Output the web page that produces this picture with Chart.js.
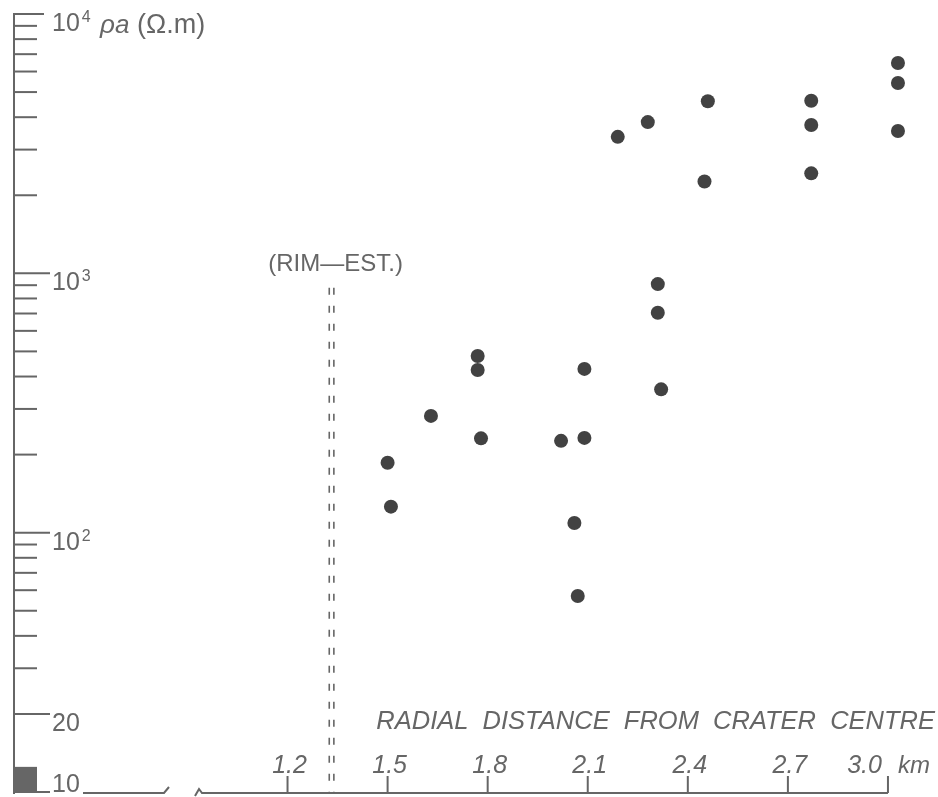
<!DOCTYPE html>
<html>
<head>
<meta charset="utf-8">
<title>Resistivity vs radial distance</title>
<script src="https://cdn.jsdelivr.net/npm/chart.js@4"></script>
<style>
  html, body { margin: 0; padding: 0; background: #fff; }
  #wrap { width: 938px; height: 797px; position: relative; }
</style>
</head>
<body>
<div id="wrap"><canvas id="chart"></canvas></div>
<script>
// --- data ---
const distanceKm = [1.50, 1.51, 1.63, 1.77, 1.77, 1.78, 2.02, 2.09, 2.09, 2.06, 2.07, 2.32,
                    2.31, 2.31, 2.19, 2.28, 2.46, 2.45, 2.77, 2.77, 2.77, 3.03, 3.03, 3.03];
const resistivity = [186, 126, 282, 480, 424, 231, 226, 232, 428, 109, 57, 357,
                     909, 705, 3360, 3830, 4610, 2260, 4630, 3730, 2430, 6470, 5420, 3540];

// axis ticks
const xTickValues = [1.2, 1.5, 1.8, 2.1, 2.4, 2.7, 3.0];
const xTickLabels = ['1.2', '1.5', '1.8', '2.1', '2.4', '2.7', '3.0'];
const yMajorValues = [10, 20, 100, 1000, 10000];
const yLabelBase = ['10', '20', '10', '10', '10'];
const yLabelExp = ['', '', '2', '3', '4'];
const yMinorValues = [30, 40, 50, 60, 70, 80, 90,
                      200, 300, 400, 500, 600, 700, 800, 900,
                      2000, 3000, 4000, 5000, 6000, 7000, 8000, 9000];

// estimated crater rim
const rimDistance = 1.332;
const rimTopValue = 880;
const rimLabel = '(RIM\u2014EST.)';

const xTitle = 'RADIAL  DISTANCE  FROM  CRATER  CENTRE';
const xUnit = 'km';

const INK = '#666';
const DOT = '#424242';

const paperAxes = {
    id: 'paperAxes',
    beforeDatasetsDraw(chart) {
        const ctx = chart.ctx;
        const xs = chart.scales.x;
        const ys = chart.scales.y;
        const left = chart.chartArea.left;
        const yBottom = ys.getPixelForValue(10);
        const axisY = yBottom + 1;

        ctx.save();
        ctx.strokeStyle = INK;
        ctx.fillStyle = INK;
        ctx.lineWidth = 2;
        ctx.lineCap = 'butt';

        // y axis line
        ctx.beginPath();
        ctx.moveTo(left, ys.getPixelForValue(10000) - 1);
        ctx.lineTo(left, axisY + 1);
        ctx.stroke();

        // minor ticks
        yMinorValues.forEach(v => {
            const py = ys.getPixelForValue(v);
            ctx.beginPath();
            ctx.moveTo(left, py);
            ctx.lineTo(left + 23, py);
            ctx.stroke();
        });

        // major ticks + labels
        yMajorValues.forEach((v, i) => {
            const py = ys.getPixelForValue(v);
            const len = v === 10000 ? 30 : 36;
            ctx.beginPath();
            ctx.moveTo(left, py);
            ctx.lineTo(left + len, py);
            ctx.stroke();

            const base = v === 10 ? py : py + 17;
            ctx.font = '25px "Liberation Sans", Arial, sans-serif';
            ctx.textAlign = 'left';
            ctx.textBaseline = 'alphabetic';
            const lx = left + 38;
            ctx.fillText(yLabelBase[i], lx, base);
            if (yLabelExp[i]) {
                const w = ctx.measureText(yLabelBase[i]).width;
                ctx.font = '16px "Liberation Sans", Arial, sans-serif';
                ctx.fillText(yLabelExp[i], lx + w + 2, base - 9);
            }
        });

        // smudge at the foot of the y axis
        const sqTop = ys.getPixelForValue(12.5);
        ctx.fillRect(left - 1, sqTop, 24, yBottom - sqTop + 1);

        // y axis title
        ctx.font = 'italic 26px "Liberation Sans", Arial, sans-serif';
        ctx.fillText('\u03c1a', left + 86, ys.getPixelForValue(10000) + 19);
        ctx.font = '27px "Liberation Sans", Arial, sans-serif';
        ctx.fillText('(\u03a9.m)', left + 123, ys.getPixelForValue(10000) + 19);

        // x axis, broken near the origin
        const x30 = xs.getPixelForValue(3.0);
        ctx.beginPath();
        ctx.moveTo(left + 69, axisY);
        ctx.lineTo(left + 150, axisY);
        ctx.lineTo(left + 155, axisY - 6);
        ctx.stroke();
        ctx.beginPath();
        ctx.moveTo(left + 181, axisY + 3);
        ctx.lineTo(left + 185, axisY - 4);
        ctx.lineTo(left + 188, axisY);
        ctx.lineTo(x30, axisY);
        ctx.stroke();

        // x ticks + labels
        xTickValues.forEach((v, i) => {
            const px = xs.getPixelForValue(v);
            ctx.beginPath();
            ctx.moveTo(px, axisY);
            ctx.lineTo(px, axisY - 17);
            ctx.stroke();
            ctx.font = 'italic 25px "Liberation Sans", Arial, sans-serif';
            ctx.textBaseline = 'alphabetic';
            if (v === 3.0) {
                ctx.textAlign = 'right';
                ctx.fillText(xTickLabels[i], px - 6, axisY - 20);
                ctx.textAlign = 'left';
                ctx.font = 'italic 24px "Liberation Sans", Arial, sans-serif';
                ctx.fillText(xUnit, px + 10, axisY - 20);
            } else {
                ctx.textAlign = 'center';
                ctx.fillText(xTickLabels[i], px + 2, axisY - 20);
            }
        });

        // x axis title
        ctx.font = 'italic 25.5px "Liberation Sans", Arial, sans-serif';
        ctx.textAlign = 'right';
        ctx.fillText(xTitle, chart.width - 3, axisY - 64);

        // rim estimate: double dashed line
        const rx = xs.getPixelForValue(rimDistance);
        const rTop = ys.getPixelForValue(rimTopValue);
        ctx.lineWidth = 1.6;
        ctx.setLineDash([7, 11]);
        [-2.3, 2.3].forEach(dx => {
            ctx.beginPath();
            ctx.moveTo(rx + dx, rTop);
            ctx.lineTo(rx + dx, axisY);
            ctx.stroke();
        });
        ctx.setLineDash([]);
        ctx.font = '24px "Liberation Sans", Arial, sans-serif';
        ctx.textAlign = 'center';
        ctx.fillText(rimLabel, rx + 4, rTop - 17);

        ctx.restore();
    }
};

const points = distanceKm.map((d, i) => ({ x: d, y: resistivity[i] }));

new Chart(document.getElementById('chart'), {
    type: 'scatter',
    data: {
        datasets: [{
            data: points,
            pointRadius: 7,
            pointHoverRadius: 7,
            backgroundColor: DOT,
            borderWidth: 0,
            clip: false
        }]
    },
    options: {
        responsive: true,
        maintainAspectRatio: false,
        animation: false,
        layout: { autoPadding: false, padding: { left: 14, right: 0, top: 14, bottom: 5 } },
        plugins: { legend: { display: false }, tooltip: { enabled: false } },
        scales: {
            x: { type: 'linear', min: 0.38, max: 3.15, display: false },
            y: { type: 'logarithmic', min: 10, max: 10000, display: false }
        }
    },
    plugins: [paperAxes]
});
</script>
</body>
</html>
